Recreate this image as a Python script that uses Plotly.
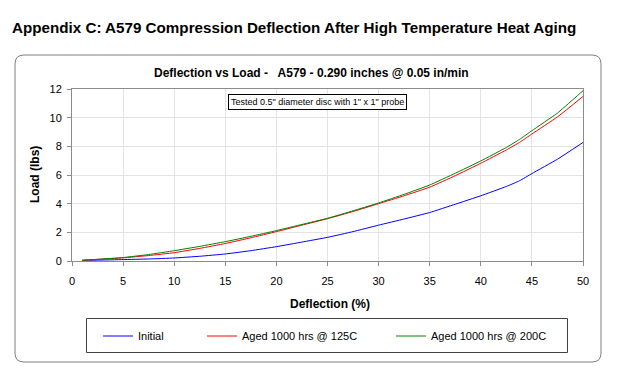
import plotly.graph_objects as go

deflection = [1, 2.5, 5, 7.5, 10, 12.5, 15, 17.5, 20, 22.5, 25, 27.5, 30, 32.5, 35, 37.5, 40, 42.5, 43.8, 45, 47.5, 50]
load_initial = [0.05, 0.06, 0.10, 0.14, 0.21, 0.33, 0.49, 0.72, 1.00, 1.32, 1.65, 2.05, 2.50, 2.93, 3.38, 3.96, 4.55, 5.20, 5.60, 6.10, 7.10, 8.27]
load_125c = [0.04, 0.11, 0.22, 0.38, 0.58, 0.88, 1.22, 1.62, 2.05, 2.50, 2.95, 3.45, 4.00, 4.55, 5.15, 5.95, 6.82, 7.75, 8.28, 8.86, 10.05, 11.48]
load_200c = [0.05, 0.12, 0.24, 0.45, 0.72, 1.02, 1.35, 1.72, 2.12, 2.55, 2.98, 3.50, 4.05, 4.65, 5.30, 6.12, 6.98, 7.92, 8.49, 9.09, 10.32, 11.88]
series_names = ["Initial", "Aged 1000 hrs @ 125C", "Aged 1000 hrs @ 200C"]
series_colors = ["#0000FF", "#FF0000", "#008000"]
x_ticks = [0, 5, 10, 15, 20, 25, 30, 35, 40, 45, 50]
y_ticks = [0, 2, 4, 6, 8, 10, 12]

W, H = 626, 377
L, R, T, B = 72, 583, 89, 261  # plot area pixels


def xp(px):
    return (px - L) / (R - L)


def yp(py):
    return (B - py) / (B - T)


def rounded_rect(x0, y0, x1, y1, r):
    rx = r / (R - L)
    ry = r / (B - T)
    a, b, c, d = xp(x0), xp(x1), yp(y0), yp(y1)  # c = top, d = bottom
    return (f"M {a+rx} {c} L {b-rx} {c} Q {b} {c} {b} {c-ry} "
            f"L {b} {d+ry} Q {b} {d} {b-rx} {d} L {a+rx} {d} "
            f"Q {a} {d} {a} {d+ry} L {a} {c-ry} Q {a} {c} {a+rx} {c} Z")


FONT = "Liberation Sans, Arial, sans-serif"

fig = go.Figure()
legend_names = ["legend", "legend2", "legend3"]
for ys, name, col, lg in zip([load_initial, load_125c, load_200c], series_names, series_colors, legend_names):
    fig.add_trace(go.Scatter(x=deflection, y=ys, mode="lines", name=name,
                             line=dict(color=col, width=1, shape="spline", smoothing=0.3),
                             legend=lg))

leg_common = dict(orientation="h", bgcolor="rgba(0,0,0,0)", borderwidth=0,
                  font=dict(family=FONT, size=11, color="black"),
                  xanchor="left", yanchor="middle", itemwidth=30)
legend_text_x = [138, 242, 431]
fig.update_layout(
    legend=dict(x=xp(legend_text_x[0] - 40), y=yp(336), **leg_common),
    legend2=dict(x=xp(legend_text_x[1] - 40), y=yp(336), **leg_common),
    legend3=dict(x=xp(legend_text_x[2] - 40), y=yp(336), **leg_common),
)

fig.update_layout(
    width=W, height=H,
    margin=dict(l=L, r=W - R, t=T, b=H - B, pad=0),
    paper_bgcolor="white", plot_bgcolor="white",
    font=dict(family=FONT, size=11, color="black"),
    showlegend=True,
    xaxis=dict(range=[0, 50], tickvals=x_ticks, showgrid=True, gridcolor="#e3e3e3", gridwidth=1,
               showline=True, linecolor="#8c8c8c", linewidth=1, mirror=True,
               ticks="outside", ticklen=4, tickcolor="#8c8c8c", zeroline=False,
               ticklabelstandoff=6,
               tickfont=dict(family=FONT, size=11, color="black")),
    yaxis=dict(range=[0, 12], tickvals=y_ticks, showgrid=True, gridcolor="#e3e3e3", gridwidth=1,
               showline=True, linecolor="#8c8c8c", linewidth=1, mirror=True,
               ticks="outside", ticklen=4, tickcolor="#8c8c8c", zeroline=False,
               ticklabelstandoff=3,
               tickfont=dict(family=FONT, size=11, color="black")),
)

shapes = [
    dict(type="path", xref="paper", yref="paper", path=rounded_rect(15, 55, 601, 362, 9),
         line=dict(color="#808080", width=1), fillcolor="rgba(0,0,0,0)", layer="below"),
    dict(type="rect", xref="paper", yref="paper", x0=xp(86.5), x1=xp(567.5), y0=yp(318.5), y1=yp(352.5),
         line=dict(color="#404040", width=1), fillcolor="rgba(0,0,0,0)"),
]
fig.update_layout(shapes=shapes)

fig.add_annotation(xref="paper", yref="paper", x=xp(10), y=yp(27), xanchor="left", yanchor="middle",
                   text="<b>Appendix C: A579 Compression Deflection After High Temperature Heat Aging</b>",
                   showarrow=False, font=dict(family=FONT, size=15.2, color="black"))
fig.add_annotation(xref="paper", yref="paper", x=xp(311), y=yp(73), xanchor="center", yanchor="middle",
                   text="<b>Deflection vs Load -   A579 - 0.290 inches @ 0.05 in/min</b>",
                   showarrow=False, font=dict(family=FONT, size=12, color="black"))
fig.add_annotation(xref="paper", yref="paper", x=xp(330), y=yp(304), xanchor="center", yanchor="middle",
                   text="<b>Deflection (%)</b>",
                   showarrow=False, font=dict(family=FONT, size=12, color="black"))
fig.add_annotation(xref="paper", yref="paper", x=xp(35), y=yp(175), xanchor="center", yanchor="middle",
                   text="<b>Load (lbs)</b>", textangle=-90,
                   showarrow=False, font=dict(family=FONT, size=12, color="black"))
fig.add_annotation(xref="paper", yref="paper", x=xp(317.5), y=yp(101.5), xanchor="center", yanchor="middle",
                   text="Tested 0.5\" diameter disc with 1\" x 1\" probe",
                   showarrow=False, bordercolor="black", borderwidth=1, borderpad=2, bgcolor="white",
                   font=dict(family=FONT, size=9, color="black"))

fig.write_html("out.html", config={"displayModeBar": False},
               post_script="document.body.style.margin='0';")
